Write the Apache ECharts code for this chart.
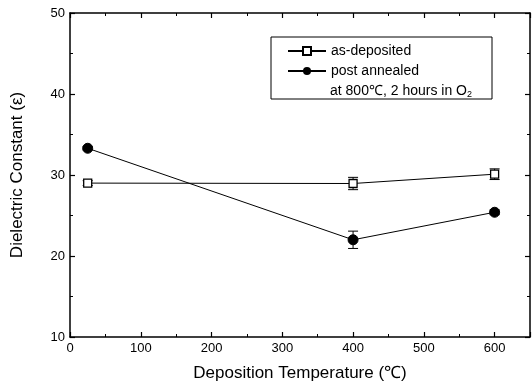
<!DOCTYPE html>
<html><head><meta charset="utf-8">
<script src="https://cdn.jsdelivr.net/npm/echarts@6/dist/echarts.min.js"></script>
<style>html,body{margin:0;padding:0;background:#fff}#c{width:532px;height:382px}</style>
</head><body><div id="c"></div>
<script>
var temps = [25, 400, 600];
var asDeposited = [29.0, 28.95, 30.1];
var asDepositedErr = [0.3, 0.76, 0.66];
var annealed = [33.3, 22.0, 25.4];
var annealedErr = [0.2, 1.07, 0.3];
var seriesNames = ['as-deposited', 'post annealed'];
var legendExtra = 'at 800\u2103, 2 hours in O';

var FONT = '"Liberation Sans", Arial, sans-serif';
function pairs(xs, ys){ return xs.map(function(x,i){ return [x, ys[i]]; }); }
function errData(xs, ys, es){ return xs.map(function(x,i){ return [x, ys[i]-es[i], ys[i]+es[i]]; }); }
function errRender(params, api){
  var x = api.value(0), lo = api.value(1), hi = api.value(2);
  var pLo = api.coord([x, lo]), pHi = api.coord([x, hi]);
  var w = 5;
  var st = {stroke:'#000', lineWidth:1};
  return {type:'group', children:[
    {type:'line', shape:{x1:pLo[0],y1:pLo[1],x2:pHi[0],y2:pHi[1]}, style:st},
    {type:'line', shape:{x1:pLo[0]-w,y1:pLo[1],x2:pLo[0]+w,y2:pLo[1]}, style:st},
    {type:'line', shape:{x1:pHi[0]-w,y1:pHi[1],x2:pHi[0]+w,y2:pHi[1]}, style:st}
  ]};
}
var axisCommon = {
  axisLine:{show:true, onZero:false, lineStyle:{color:'#000', width:1.5}},
  axisTick:{show:true, inside:true, length:5, lineStyle:{color:'#000', width:1.2}},
  minorTick:{show:true, splitNumber:2, length:3, lineStyle:{color:'#000', width:1}},
  splitLine:{show:false}
};
var chart = echarts.init(document.getElementById('c'));
chart.setOption({
  animation:false,
  backgroundColor:'#fff',
  grid:{left:70, right:2, top:13, bottom:45, containLabel:false, outerBoundsMode:'none'},
  legend:{
    data: seriesNames,
    left: 287, top: 44, orient:'vertical', padding:0,
    itemWidth: 38, itemHeight: 10, itemGap: 6,
    textStyle:{fontFamily:FONT, fontSize:14, color:'#000'}
  },
  graphic:[
    {type:'rect', shape:{x:271, y:37, width:221, height:62}, style:{fill:'none', stroke:'#000', lineWidth:1}, z:100},
    {type:'text', left:330, top:84, z:100, style:{
      text: legendExtra + '{sub|2}', fontFamily:FONT, fontSize:14, fill:'#000',
      rich:{sub:{fontSize:9, fontFamily:FONT, padding:[8,0,0,0], fill:'#000'}}
    }}
  ],
  xAxis:[
    Object.assign({type:'value', min:0, max:650, interval:100, position:'bottom',
      name:'Deposition Temperature (\u2103)', nameLocation:'middle', nameGap:28,
      nameTextStyle:{fontFamily:FONT, fontSize:17, color:'#000'},
      axisLabel:{fontFamily:FONT, fontSize:13, color:'#000', margin:5,
        formatter:function(v){ return v > 600 ? '' : v; }}
    }, axisCommon),
    Object.assign({type:'value', min:0, max:650, interval:100, position:'top',
      axisLabel:{show:false}}, axisCommon)
  ],
  yAxis:[
    Object.assign({type:'value', min:10, max:50, interval:10, position:'left',
      name:'Dielectric Constant (\u03b5)', nameLocation:'middle', nameGap:44,
      nameTextStyle:{fontFamily:FONT, fontSize:17, color:'#000'},
      axisLabel:{fontFamily:FONT, fontSize:13, color:'#000', margin:5}
    }, axisCommon),
    Object.assign({type:'value', min:10, max:50, interval:10, position:'right',
      axisLabel:{show:false}}, axisCommon)
  ],
  series:[
    {name:seriesNames[0], type:'line', data:pairs(temps, asDeposited),
      symbol:'rect', symbolSize:8, z:5,
      itemStyle:{color:'#fff', borderColor:'#000', borderWidth:1.3},
      lineStyle:{color:'#000', width:1}},
    {name:seriesNames[1], type:'line', data:pairs(temps, annealed),
      symbol:'circle', symbolSize:10, z:5,
      itemStyle:{color:'#000', borderColor:'#000'},
      lineStyle:{color:'#000', width:1}},
    {type:'custom', name:'errA', data:errData(temps, asDeposited, asDepositedErr), renderItem:errRender, z:3},
    {type:'custom', name:'errB', data:errData(temps, annealed, annealedErr), renderItem:errRender, z:3}
  ]
});
</script></body></html>
